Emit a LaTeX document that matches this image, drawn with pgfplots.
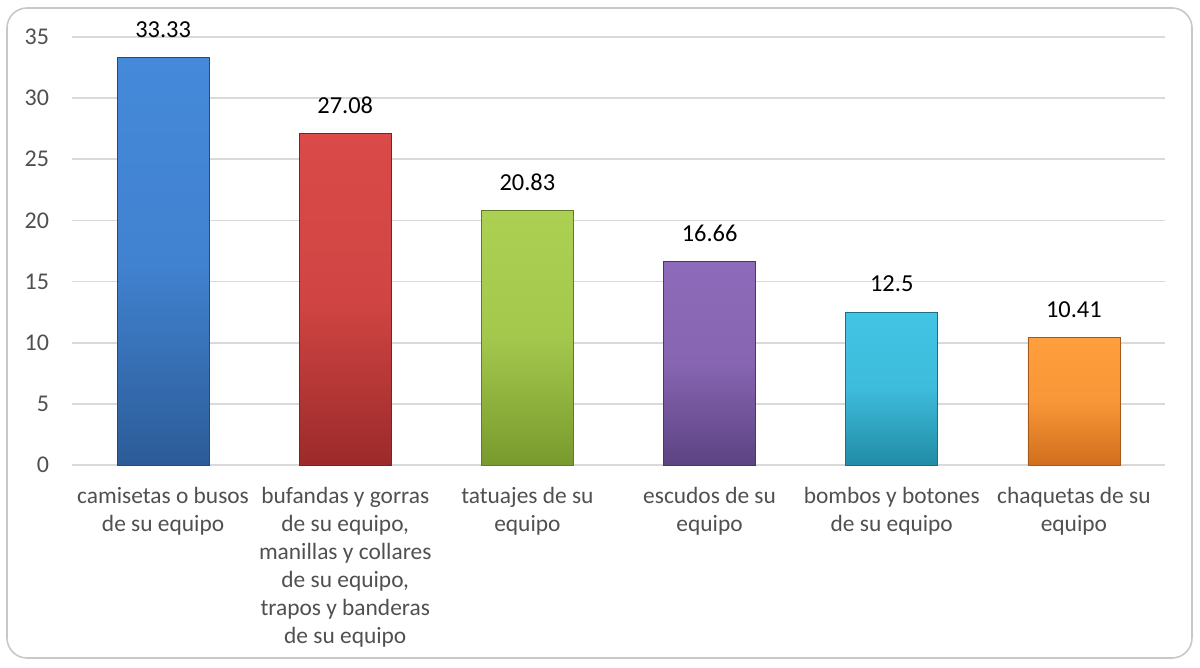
\documentclass[border=0pt]{standalone}
\usepackage{pgfplots}
\pgfplotsset{compat=1.18}
\usepackage{fontspec}
\setmainfont{Carlito}
\definecolor{gridc}{HTML}{D9D9D9}
\definecolor{txt}{HTML}{505050}
\definecolor{frm}{HTML}{C8C8C8}
\definecolor{bluet}{HTML}{4589DA}\definecolor{blueb}{HTML}{2C5C98}
\definecolor{redt}{HTML}{D94A48}\definecolor{redb}{HTML}{9C2A2A}
\definecolor{greent}{HTML}{ABD052}\definecolor{greenb}{HTML}{789A2E}
\definecolor{purt}{HTML}{8E6BBA}\definecolor{purb}{HTML}{5C4382}
\definecolor{cyant}{HTML}{42C4E4}\definecolor{cyanb}{HTML}{228CA6}
\definecolor{orat}{HTML}{FF9E3C}\definecolor{orab}{HTML}{D06E1E}
\begin{document}
\begin{tikzpicture}
\useasboundingbox (0,0) rectangle (600pt,334pt);
\draw[frm, line width=0.8pt, rounded corners=10pt] (3.5pt,5pt) rectangle (596pt,330pt);
\begin{axis}[
  at={(36pt,101.5pt)}, anchor=south west,
  scale only axis, width=546.5pt, height=214pt,
  xmin=-0.5, xmax=5.5, ymin=0, ymax=35,
  ybar, bar width=46pt, bar shift=0pt,
  axis line style={draw=none},
  ytick={0,5,...,35},
  ymajorgrids, grid style={gridc, line width=0.8pt},
  major tick length=0pt,
  xtick={0,1,2,3,4,5},
  xticklabels={{camisetas o busos\\de su equipo},
    {bufandas y gorras\\de su equipo,\\manillas y collares\\de su equipo,\\trapos y banderas\\de su equipo},
    {tatuajes de su\\equipo},{escudos de su\\equipo},{bombos y botones\\de su equipo},{chaquetas de su\\equipo}},
  xticklabel style={align=center, font=\fontsize{11.7}{14}\selectfont, text=txt, anchor=north, yshift=-7.5pt},
  yticklabel style={font=\fontsize{12}{14}\selectfont, text=txt, xshift=-8pt},
  /pgf/number format/assume math mode=true,
  point meta=explicit symbolic,
  nodes near coords,
  every node near coord/.append style={font=\fontsize{12.2}{15}\selectfont, text=black, yshift=6.5pt},
  clip=false,
]
\draw[gridc, line width=0.8pt] (axis cs:-0.5,0) -- (axis cs:5.5,0);
\addplot[draw=blueb!80!black, line width=0.4pt, top color=bluet, bottom color=blueb, middle color=bluet!85!blueb] coordinates {(0,33.33) [33.33]};
\addplot[draw=redb!80!black, line width=0.4pt, top color=redt, bottom color=redb, middle color=redt!85!redb] coordinates {(1,27.08) [27.08]};
\addplot[draw=greenb!80!black, line width=0.4pt, top color=greent, bottom color=greenb, middle color=greent!85!greenb] coordinates {(2,20.83) [20.83]};
\addplot[draw=purb!80!black, line width=0.4pt, top color=purt, bottom color=purb, middle color=purt!85!purb] coordinates {(3,16.66) [16.66]};
\addplot[draw=cyanb!80!black, line width=0.4pt, top color=cyant, bottom color=cyanb, middle color=cyant!85!cyanb] coordinates {(4,12.5) [12.5]};
\addplot[draw=orab!80!black, line width=0.4pt, top color=orat, bottom color=orab, middle color=orat!85!orab] coordinates {(5,10.41) [10.41]};
\end{axis}
\end{tikzpicture}
\end{document}
